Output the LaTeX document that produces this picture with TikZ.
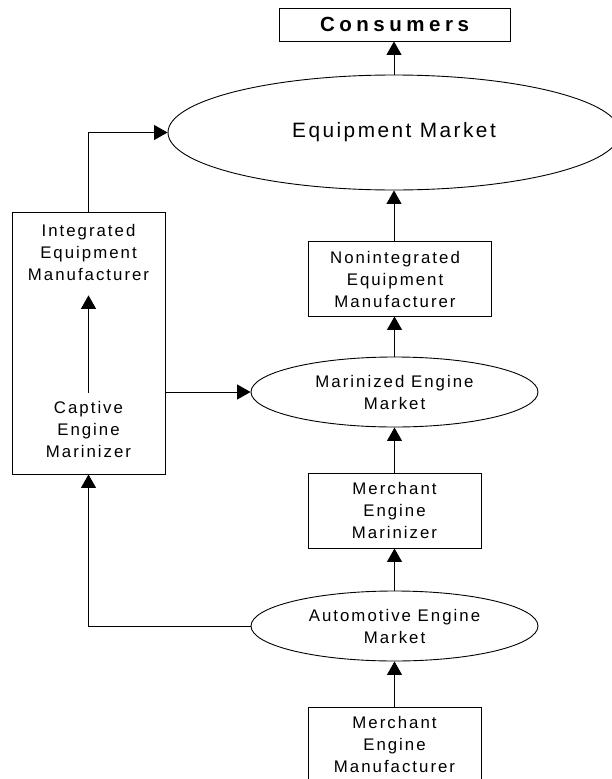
\documentclass[tikz,border=0pt]{standalone}
\usepackage{fontspec}
\setmainfont{Liberation Sans}[LetterSpace=12]
\usetikzlibrary{shapes.geometric,arrows.meta}
\begin{document}
\begin{tikzpicture}[x=1pt,y=-1pt,
  box/.style={draw, line width=0.9pt, rectangle, inner sep=0pt, align=center, font=\fontsize{16.8}{22}\selectfont},
  oval/.style={draw, line width=0.9pt, ellipse, inner sep=0pt, align=center, font=\fontsize{16.8}{22}\selectfont},
  txt/.style={inner sep=0pt, align=center, font=\fontsize{16.8}{22}\selectfont},
  arr/.style={line width=1pt, -{Triangle[length=13.5pt,width=15pt]}}]
\useasboundingbox (0,0) rectangle (612,779);
\node[box, minimum width=231pt, minimum height=33pt, font=\fontsize{20.5}{24}\selectfont\bfseries\addfontfeatures{LetterSpace=22}] (cons) at (394.5,24.5) {Consumers};
\node[oval, minimum width=452pt, minimum height=115pt, font=\fontsize{20.8}{24}\selectfont] (eq) at (394,132.5) {Equipment Market};
\node[box, minimum width=153pt, minimum height=262pt] (lbox) at (88.5,343) {};
\node[txt] (intg) at (88.5,252) {Integrated\\Equipment\\Manufacturer};
\node[txt] (capt) at (88.5,429) {Captive\\Engine\\Marinizer};
\node[box, minimum width=183pt, minimum height=75pt] (nonint) at (399.5,278.5) {};
\node[txt] (nonintT) at (395,279) {Nonintegrated\\Equipment\\Manufacturer};
\node[oval, minimum width=287pt, minimum height=70pt] (mar) at (394.5,392) {Marinized Engine\\Market};
\node[box, minimum width=173pt, minimum height=75pt] (mm) at (394.5,510.5) {Merchant\\Engine\\Marinizer};
\node[oval, minimum width=287pt, minimum height=70pt] (auto) at (394.5,626) {Automotive Engine\\Market};
\node[box, minimum width=173pt, minimum height=74pt] (mfr) at (394.5,744) {Merchant\\Engine\\Manufacturer};
\draw[arr] (eq.north) -- (eq.north |- cons.south);
\draw[arr] (eq.south |- nonint.north) -- (eq.south);
\draw[arr] (mar.north) -- (mar.north |- nonint.south);
\draw[arr] (mm.north) -- (mar.south);
\draw[arr] (auto.north) -- (mm.south);
\draw[arr] (mfr.north) -- (auto.south);
\draw[arr] (lbox.north) |- (eq.west);
\draw[arr] (lbox.east |- mar.west) -- (mar.west);
\draw[arr] (auto.west) -| (lbox.south);
\draw[arr, shorten <=8pt, shorten >=15pt] (capt.north) -- (intg.south);
\end{tikzpicture}
\end{document}
